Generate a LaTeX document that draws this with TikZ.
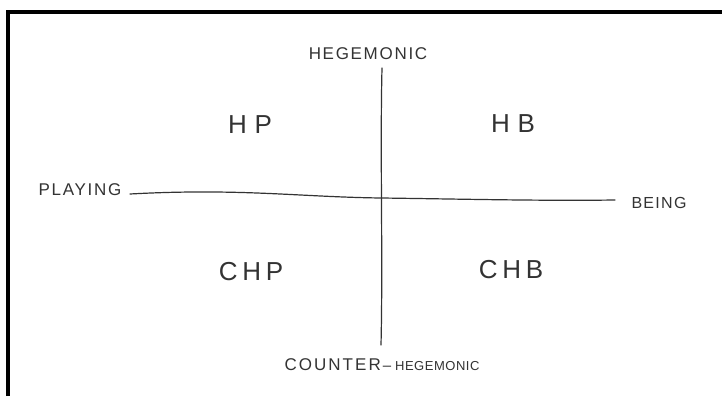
\documentclass[tikz,border=0pt]{standalone}
\usepackage{fontspec}
\setmainfont{Liberation Sans}
\definecolor{ink}{HTML}{333333}
\newcommand{\lsp}[3]{{\fontsize{#1}{#1}\selectfont\addfontfeature{LetterSpace=#2}#3}}
\tikzset{
  lbl/.style={text=ink, inner sep=0pt, anchor=center},
  axisline/.style={draw=ink, line width=1.2pt, line cap=round, line join=round},
  frameline/.style={draw=black, line width=4pt}
}
\begin{document}
\begin{tikzpicture}[x=1pt,y=-1pt]
\useasboundingbox[fill=white] (0,0) rectangle (722,396);
% frame (top and left edges)
\coordinate (fbl) at (8,396);
\coordinate (ftl) at (8,12);
\coordinate (ftr) at (722,12);
\draw[frameline] (fbl) -- (ftl) -- (ftr);
% axis labels
\node[lbl] (heg) at (368,54) {\lsp{17}{10}{HEGEMONIC}};
\node[lbl] (play) at (80,190) {\lsp{17}{10}{PLAYING}};
\node[lbl] (being) at (659,203) {\lsp{16}{8}{BEING}};
\node[lbl] (cheg) at (382,365) {\lsp{17}{12}{COUNTER}\hspace{2pt}\lsp{15}{0}{–}\hspace{4pt}\lsp{13}{4}{HEGEMONIC}};
% quadrant labels
\node[lbl] (hp) at (250,125) {\lsp{26}{30}{HP}};
\node[lbl] (hb) at (513,124) {\lsp{26}{30}{HB}};
\node[lbl] (chp) at (251,272) {\lsp{26}{18}{CHP}};
\node[lbl] (chb) at (511,270) {\lsp{26}{18}{CHB}};
% axes
\coordinate (vt) at (382,68);
\coordinate (vb) at (381,345);
\coordinate (hl) at (130,194);
\coordinate (hc) at (381,198);
\coordinate (hr) at (615,200);
\draw[axisline] (vt) .. controls (380,150) and (383,260) .. (vb);
\draw[axisline] (hl) .. controls (240,188) and (300,197) .. (hc) .. controls (460,199) and (540,201) .. (hr);
\end{tikzpicture}
\end{document}
